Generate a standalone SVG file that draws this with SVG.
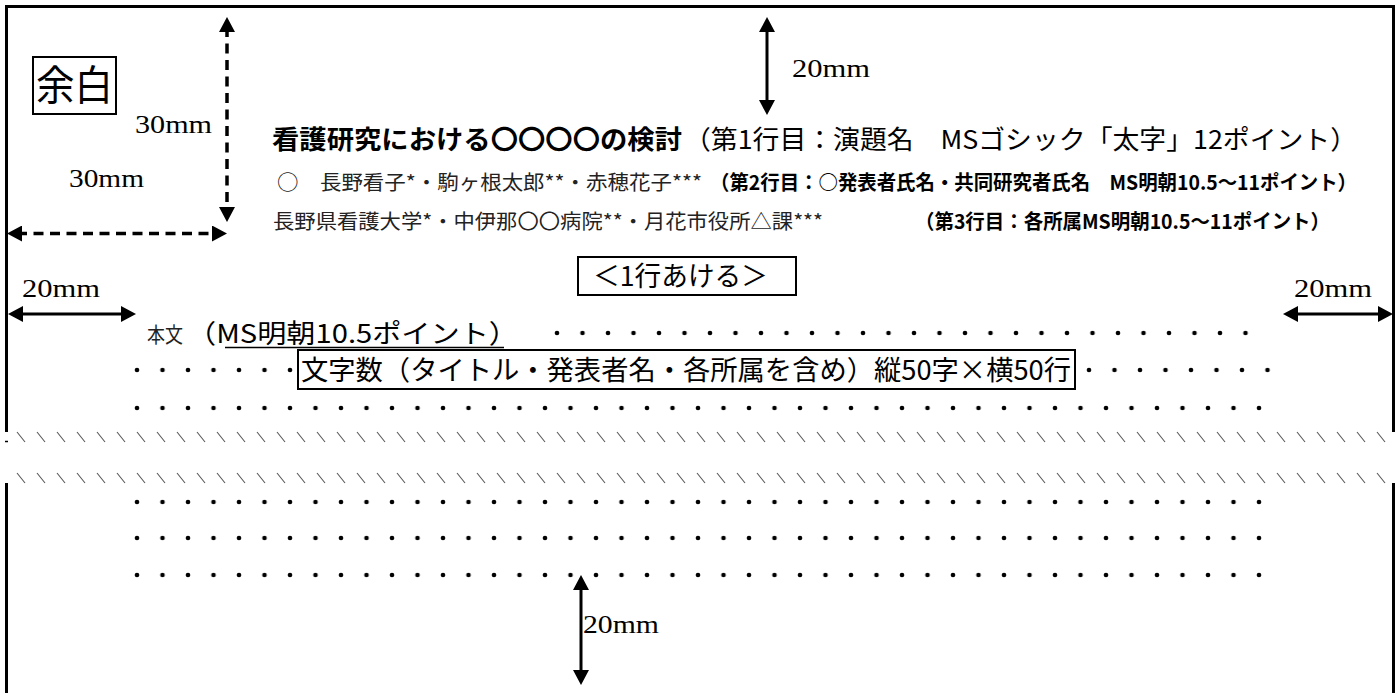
<svg xmlns="http://www.w3.org/2000/svg" width="1399" height="693" viewBox="0 0 1399 693">
<style>
  .g{font-family:"Noto Sans CJK JP","Noto Sans",sans-serif;fill:#000}
  .m{font-family:"Noto Sans CJK JP","Liberation Serif",serif;fill:#222}
  .b{font-weight:bold}
  .mm{font-family:"Liberation Serif","DejaVu Serif",serif;font-size:26px;fill:#000}
  .bd{fill:none;stroke:#000;stroke-width:3}
  .box{fill:none;stroke:#000;stroke-width:2}
  .ar{fill:none;stroke:#000;stroke-width:3;marker-start:url(#ah);marker-end:url(#ah)}
  .da{stroke-width:3.5;stroke-dasharray:10 6.5}
</style>
<defs>
  <marker id="ah" markerUnits="userSpaceOnUse" markerWidth="16" markerHeight="16" viewBox="0 0 16 16" refX="5" refY="8" orient="auto-start-reverse">
    <path d="M0,0 L15,8 L0,16 Z" fill="#000"/>
  </marker>
  <pattern id="dots" patternUnits="userSpaceOnUse" x="0" y="-4" width="25.5" height="8">
    <circle cx="12.75" cy="4" r="2.3" fill="#000"/>
  </pattern>
  <pattern id="hatch" patternUnits="userSpaceOnUse" x="0" y="0" width="20" height="12">
    <path d="M1,1 L9,11" stroke="#555" stroke-width="1.1"/>
  </pattern>
</defs>

<g id="page-border">
  <path class="bd" d="M6.5,432 V6.5 H1393.5 V432 M6.5,483 V693 M1393.5,483 V693"/>
  <path d="M5,441.5 H8" stroke="#000" stroke-width="1.5"/>
</g>

<g id="cut-lines">
  <rect x="0" y="0" width="1380" height="12" fill="url(#hatch)" transform="translate(16,431)"/>
  <rect x="0" y="0" width="1380" height="12" fill="url(#hatch)" transform="translate(16,472)"/>
</g>

<g id="margin-label">
  <rect class="box" x="33" y="57" width="83" height="57"/>
  <text class="g" x="36" y="100" font-size="41" textLength="77" lengthAdjust="spacingAndGlyphs">余白</text>
</g>

<g id="connectors">
  <path class="ar da" d="M227,27 V212"/>
  <path class="ar da" d="M17,233.5 H217"/>
  <path class="ar" d="M767,27 V105"/>
  <path class="ar" d="M18,314 H126"/>
  <path class="ar" d="M1293,314 H1383"/>
  <path class="ar" d="M581,585 V675"/>
</g>

<g id="dimension-labels">
  <text class="mm" x="135" y="133" textLength="77" lengthAdjust="spacingAndGlyphs">30mm</text>
  <text class="mm" x="69" y="187" textLength="75" lengthAdjust="spacingAndGlyphs">30mm</text>
  <text class="mm" x="792" y="77" textLength="78" lengthAdjust="spacingAndGlyphs">20mm</text>
  <text class="mm" x="22" y="297" textLength="78" lengthAdjust="spacingAndGlyphs">20mm</text>
  <text class="mm" x="1294" y="297" textLength="78" lengthAdjust="spacingAndGlyphs">20mm</text>
  <text class="mm" x="583" y="633" textLength="76" lengthAdjust="spacingAndGlyphs">20mm</text>
</g>

<g id="title-line">
  <text class="g b" x="272" y="149" font-size="26" textLength="410" lengthAdjust="spacingAndGlyphs">看護研究における〇〇〇〇の検討</text>
  <text class="g" x="684" y="149" font-size="26" textLength="673" lengthAdjust="spacingAndGlyphs">（第1行目：演題名　MSゴシック「太字」12ポイント）</text>
</g>

<g id="author-line">
  <text class="m" x="277" y="190" font-size="20" textLength="425" lengthAdjust="spacingAndGlyphs">○　長野看子*・駒ヶ根太郎**・赤穂花子***</text>
  <text class="g b" x="710" y="190" font-size="20" textLength="647" lengthAdjust="spacingAndGlyphs">（第2行目：○発表者氏名・共同研究者氏名　MS明朝10.5～11ポイント）</text>
</g>

<g id="affiliation-line">
  <text class="m" x="273" y="229" font-size="20" textLength="550" lengthAdjust="spacingAndGlyphs">長野県看護大学*・中伊那〇〇病院**・月花市役所△課***</text>
  <text class="g b" x="915" y="229" font-size="20" textLength="415" lengthAdjust="spacingAndGlyphs">（第3行目：各所属MS明朝10.5～11ポイント）</text>
</g>

<g id="blank-line-box">
  <rect class="box" x="578" y="257" width="218" height="38"/>
  <text class="g" x="593" y="286" font-size="27" textLength="175" lengthAdjust="spacingAndGlyphs">＜1行あける＞</text>
</g>

<g id="body-row-1">
  <text class="m" x="147" y="342" font-size="21" textLength="36" lengthAdjust="spacingAndGlyphs">本文</text>
  <text class="g" x="187" y="343" font-size="26" textLength="331" lengthAdjust="spacingAndGlyphs">（MS明朝10.5ポイント）</text>
  <path d="M225,347.5 H504" stroke="#000" stroke-width="1.5"/>
  <rect x="0" y="-4" width="714" height="8" fill="url(#dots)" transform="translate(544.25,333)"/>
</g>

<g id="char-count-box">
  <rect x="0" y="-4" width="178.5" height="8" fill="url(#dots)" transform="translate(124.25,370)"/>
  <rect class="box" x="298" y="350" width="777" height="39"/>
  <text class="g" x="301" y="380" font-size="27" textLength="770" lengthAdjust="spacingAndGlyphs">文字数（タイトル・発表者名・各所属を含め）縦50字×横50行</text>
  <rect x="0" y="-4" width="204" height="8" fill="url(#dots)" transform="translate(1076.25,370)"/>
</g>

<g id="body-dots">
  <rect x="0" y="-4" width="1147.5" height="8" fill="url(#dots)" transform="translate(124.25,408)"/>
  <rect x="0" y="-4" width="1147.5" height="8" fill="url(#dots)" transform="translate(124.25,502)"/>
  <rect x="0" y="-4" width="1147.5" height="8" fill="url(#dots)" transform="translate(124.25,538)"/>
  <rect x="0" y="-4" width="1147.5" height="8" fill="url(#dots)" transform="translate(124.25,575)"/>
</g>
</svg>
